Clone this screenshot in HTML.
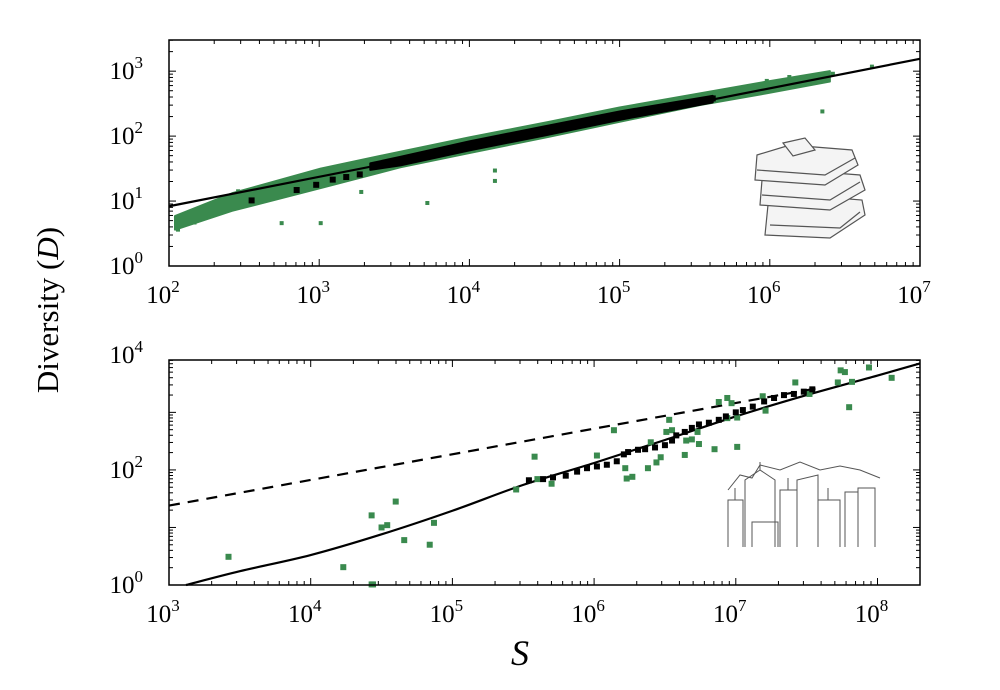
<!DOCTYPE html>
<html><head><meta charset="utf-8"><style>
html,body{margin:0;padding:0;background:#fff;}
svg{display:block;font-family:"Liberation Serif",serif;}
</style></head><body>
<svg id="chart" width="1000" height="690" viewBox="0 0 1000 690" xmlns="http://www.w3.org/2000/svg">
<text transform="translate(58,310) rotate(-90)" text-anchor="middle" font-size="31">Diversity (<tspan font-style="italic">D</tspan>)</text>
<text x="520" y="665" text-anchor="middle" font-size="36" font-style="italic">S</text>
<g fill="#f4f4f4" stroke="#555" stroke-width="1.2">
<path d="M765 235 L830 238 L865 215 L862 200 L800 195 L768 205 Z"/>
<path d="M770 225 L840 228 L860 212"/>
<path d="M760 205 L830 210 L865 190 L860 175 L795 170 L762 180 Z"/>
<path d="M762 195 L830 200 L860 182"/>
<path d="M755 180 L825 185 L858 165 L852 150 L790 145 L757 155 Z"/>
<path d="M757 170 L825 175 L855 158"/>
<path d="M783 143 L805 138 L815 150 L793 156 Z"/>
</g>
<g fill="none" stroke="#555" stroke-width="1">
<path d="M728 547 L728 500 L743 500 L743 547 M735 500 L735 488"/>
<path d="M745 547 L745 480 L760 470 L775 480 L775 547 M760 470 L760 462"/>
<path d="M752 547 L752 522 L778 522 L778 547"/>
<path d="M780 547 L780 490 L797 490 L797 547 M788 490 L788 478"/>
<path d="M797 547 L797 480 L818 475 L818 547"/>
<path d="M818 547 L818 500 L840 500 L840 547 M828 500 L828 488"/>
<path d="M845 547 L845 492 L858 492 L858 547"/>
<path d="M858 547 L858 488 L875 488 L875 547"/>
<path d="M728 490 L740 475 L752 478 L760 465 L780 470 L800 462 L820 470 L840 466 L860 470 L880 478"/>
</g>
<g id="top"></g>
<g id="bot"></g>
</svg>
<script>
// ---------- Top panel data (log10 values) ----------
const topLineS = [2, 7];
const topLineD = [0.92, 3.19];
const topBandS = [2.04, 2.42, 3.01, 3.54, 4.0, 4.53, 5.0, 5.54, 5.98, 6.40];
const topBandHi = [0.77, 1.12, 1.50, 1.76, 1.98, 2.22, 2.44, 2.66, 2.84, 3.00];
const topBandLo = [0.56, 0.85, 1.20, 1.52, 1.74, 1.99, 2.22, 2.48, 2.66, 2.84];
const topCoreS = [3.34, 3.54, 4.0, 4.5, 5.0, 5.62];
const topCoreHi = [1.58, 1.68, 1.92, 2.15, 2.38, 2.62];
const topCoreLo = [1.48, 1.55, 1.78, 2.01, 2.25, 2.52];
const topBlackS = [2.55, 2.85, 2.98, 3.09, 3.18, 3.27, 5.50, 5.62];
const topBlackD = [1.01, 1.17, 1.25, 1.33, 1.37, 1.41, 2.51, 2.58];
const topGreenS = [2.07, 2.06, 2.17, 2.25, 2.36, 2.46, 2.75, 3.01, 3.28, 3.72, 4.17, 4.17, 6.35, 6.68, 6.42, 6.13, 5.98];
const topGreenD = [0.62, 0.56, 0.67, 0.80, 0.88, 1.15, 0.66, 0.66, 1.14, 0.97, 1.47, 1.31, 2.38, 3.07, 2.96, 2.91, 2.85];
const topXTicks = [2, 3, 4, 5, 6, 7];
const topYTicks = [0, 1, 2, 3];
// ---------- Bottom panel data (log10 values) ----------
const botCurveS = [3.12, 3.5, 4.0, 4.5, 5.0, 5.5, 6.0, 6.5, 7.0, 7.5, 8.0, 8.3];
const botCurveD = [0, 0.24, 0.52, 0.88, 1.29, 1.74, 2.12, 2.52, 2.93, 3.3, 3.64, 3.85];
const botDashS = [3.0, 7.6];
const botDashD = [1.38, 3.43];
const botGreenS = [3.42,4.23,4.43,4.44,4.43,4.50,4.54,4.60,4.66,4.84,4.87,5.45,5.58,5.60,5.70,6.02,6.14,6.22,6.23,6.27,6.38,6.40,6.44,6.47,6.51,6.53,6.55,6.64,6.65,6.69,6.74,6.73,6.85,6.88,6.94,6.94,6.97,7.01,7.01,7.19,7.21,7.42,7.52,7.72,7.74,7.77,7.80,7.82,7.94,8.10];
const botGreenD = [0.49,0.31,0.01,0.01,1.21,1.00,1.04,1.45,0.78,0.70,1.08,1.66,2.23,1.84,1.76,2.25,2.69,2.03,1.85,1.88,2.03,2.48,2.13,2.22,2.66,2.87,2.69,2.26,2.51,2.53,2.45,2.66,2.36,3.18,3.25,2.90,3.16,2.40,2.91,3.28,3.03,3.52,3.32,3.52,3.73,3.70,3.09,3.53,3.78,3.60];
const botBlackS = [5.54,5.64,5.71,5.80,5.88,5.95,6.02,6.09,6.16,6.21,6.24,6.31,6.36,6.43,6.50,6.55,6.58,6.64,6.69,6.74,6.81,6.88,6.93,7.00,7.05,7.12,7.20,7.27,7.34,7.41,7.48,7.54];
const botBlackD = [1.82,1.84,1.87,1.90,1.97,2.03,2.06,2.09,2.15,2.27,2.31,2.35,2.36,2.39,2.43,2.51,2.60,2.66,2.73,2.79,2.82,2.87,2.93,3.00,3.04,3.10,3.19,3.25,3.30,3.32,3.36,3.40];
const botXTicks = [3, 4, 5, 6, 7, 8];
const botYTicks = [0, 2, 4];

const NS = "http://www.w3.org/2000/svg";
const GREEN = "#3a8a4e";
function mk(parent, tag, attrs) {
  const e = document.createElementNS(NS, tag);
  for (const k in attrs) e.setAttribute(k, attrs[k]);
  parent.appendChild(e);
  return e;
}
function panel(g, box, xd, yd, xt, yt) {
  const X = v => box.x0 + (v - xd[0]) / (xd[1] - xd[0]) * (box.x1 - box.x0);
  const Y = v => box.y1 - (v - yd[0]) / (yd[1] - yd[0]) * (box.y1 - box.y0);
  const tg = mk(g, "g", {stroke: "#000", "stroke-width": 1});
  
  
  for (let d = Math.floor(xd[0]); d <= Math.ceil(xd[1]); d++) {
    for (let m = 1; m < 10; m++) {
      const v = d + Math.log10(m);
      if (v < xd[0] - 1e-9 || v > xd[1] + 1e-9) continue;
      const L = m === 1 ? 7 : 4, x = X(v);
      mk(tg, "line", {x1: x, x2: x, y1: box.y1, y2: box.y1 - L});
      mk(tg, "line", {x1: x, x2: x, y1: box.y0, y2: box.y0 + L});
    }
  }
  for (let d = Math.floor(yd[0]); d <= Math.ceil(yd[1]); d++) {
    for (let m = 1; m < 10; m++) {
      const v = d + Math.log10(m);
      if (v < yd[0] - 1e-9 || v > yd[1] + 1e-9) continue;
      const L = m === 1 ? 7 : 4, y = Y(v);
      mk(tg, "line", {x1: box.x0, x2: box.x0 + L, y1: y, y2: y});
      mk(tg, "line", {x1: box.x1, x2: box.x1 - L, y1: y, y2: y});
    }
  }
  xt.forEach(v => {
    const t = mk(g, "text", {x: X(v) - 6, y: box.y1 + 37, "text-anchor": "middle", "font-size": 25});
    
    
    t.textContent = "10";
    const s = mk(t, "tspan", {dy: -11, "font-size": 17});
    s.textContent = String(v);
  });
  yt.forEach(v => {
    const t = mk(g, "text", {x: box.x0 - 26, y: Y(v) + 8, "text-anchor": "end", "font-size": 25});
    
    
    t.textContent = "10";
    const s = mk(t, "tspan", {dy: -11, "font-size": 17});
    s.textContent = String(v);
  });
  return {X, Y};
}
function band(g, ax, S, hi, lo, color, name) {
  let d = S.map((s, i) => (i ? "L" : "M") + ax.X(s) + " " + ax.Y(hi[i])).join(" ");
  for (let i = S.length - 1; i >= 0; i--) d += " L" + ax.X(S[i]) + " " + ax.Y(lo[i]);
  const p = mk(g, "path", {d: d + " Z", fill: color, stroke: color, "stroke-width": 2, "stroke-linejoin": "round"});
  
  
}
function pts(g, ax, S, D, color, size, name) {
  S.forEach((s, i) => {
    const r = mk(g, "rect", {x: ax.X(s) - size / 2, y: ax.Y(D[i]) - size / 2, width: size, height: size, fill: color});
    
    
  });
}
function line(g, ax, S, D, dash, name) {
  const P = S.map((s, i) => [ax.X(s), ax.Y(D[i])]);
  let d = "M" + P[0][0] + " " + P[0][1];
  for (let i = 0; i < P.length - 1; i++) {
    const p0 = P[Math.max(0, i - 1)], p1 = P[i], p2 = P[i + 1], p3 = P[Math.min(P.length - 1, i + 2)];
    const c1 = [p1[0] + (p2[0] - p0[0]) / 6, p1[1] + (p2[1] - p0[1]) / 6];
    const c2 = [p2[0] - (p3[0] - p1[0]) / 6, p2[1] - (p3[1] - p1[1]) / 6];
    d += " C" + c1[0] + " " + c1[1] + " " + c2[0] + " " + c2[1] + " " + p2[0] + " " + p2[1];
  }
  const p = mk(g, "path", {d: d, fill: "none", stroke: "#000", "stroke-width": 2.2});
  if (dash) p.setAttribute("stroke-dasharray", "11 8");
  
  
}
// TOP
const gt = document.getElementById("top");


const tb = {x0: 169, x1: 920, y0: 40, y1: 266};
const ta = panel(gt, tb, [2, 7], [0, 3.48], topXTicks, topYTicks);
band(gt, ta, topBandS, topBandHi, topBandLo, GREEN, 'books-scatter-band');
pts(gt, ta, topGreenS, topGreenD, GREEN, 4, 'books-point');
band(gt, ta, topCoreS, topCoreHi, topCoreLo, "#000", 'books-average-band');
pts(gt, ta, topBlackS, topBlackD, "#000", 6, 'books-average-point');
line(gt, ta, topLineS, topLineD, false, 'books-fit-line');
const fr1 = mk(gt, "rect", {x: tb.x0, y: tb.y0, width: tb.x1 - tb.x0, height: tb.y1 - tb.y0, fill: "none", stroke: "#000", "stroke-width": 1.5});


// BOTTOM
const gb = document.getElementById("bot");


const bb = {x0: 169, x1: 920, y0: 360, y1: 585};
const ba = panel(gb, bb, [3, 8.3], [0, 3.91], botXTicks, botYTicks);
line(gb, ba, botDashS, botDashD, true, 'cities-dashed-line');
line(gb, ba, botCurveS, botCurveD, false, 'cities-fit-curve');
pts(gb, ba, botGreenS, botGreenD, GREEN, 6, 'cities-point');
pts(gb, ba, botBlackS, botBlackD, "#000", 6, 'cities-average-point');
const fr2 = mk(gb, "rect", {x: bb.x0, y: bb.y0, width: bb.x1 - bb.x0, height: bb.y1 - bb.y0, fill: "none", stroke: "#000", "stroke-width": 1.5});


</script>
</body></html>
